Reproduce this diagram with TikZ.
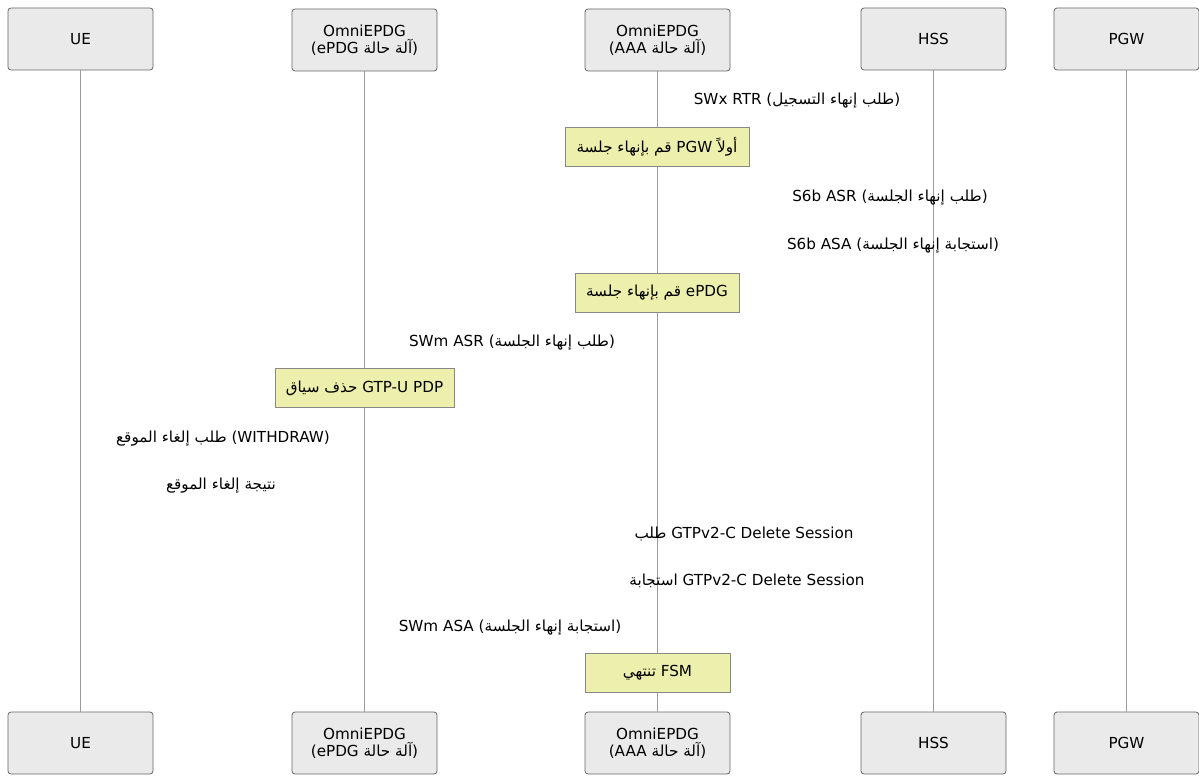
\documentclass[tikz,border=0pt]{standalone}
\usepackage{fontspec}
\setmainfont{DejaVu Sans}
\newfontfamily\arabicfont[Script=Arabic]{DejaVu Sans}
\TeXXeTstate=1
\newcommand\artxt[1]{{\arabicfont\beginR #1\endR}}
\definecolor{actorfill}{HTML}{EAEAEA}
\definecolor{actordraw}{HTML}{666666}
\definecolor{notefill}{HTML}{EDF0AD}
\definecolor{notedraw}{HTML}{888888}
\definecolor{lifecol}{HTML}{9A9A9A}
\begin{document}
\begin{tikzpicture}[x=1pt,y=-1pt,
  font=\fontsize{15.2}{17}\selectfont,
  actor/.style={draw=actordraw, fill=actorfill, rounded corners=3pt,
    minimum width=145pt, minimum height=62pt, align=center, inner sep=0pt, line width=0.8pt},
  notebox/.style={draw=notedraw, fill=notefill, minimum height=39pt, inner sep=0pt, line width=0.8pt},
  msg/.style={inner sep=0pt},
  life/.style={draw=lifecol, line width=1pt}]
\useasboundingbox (0,0) rectangle (1199,776);
% participants top
\node[actor] (ue)  at (80.5,39)  {UE};
\node[actor] (ep)  at (364.5,40) {OmniEPDG\\(ePDG \artxt{آلة حالة})};
\node[actor] (aaa) at (657.5,40) {OmniEPDG\\(AAA \artxt{آلة حالة})};
\node[actor] (hss) at (933.5,39) {HSS};
\node[actor] (pgw) at (1126.5,39) {PGW};
% participants bottom
\node[actor] (ueb)  at (80.5,743)  {UE};
\node[actor] (epb)  at (364.5,743) {OmniEPDG\\(ePDG \artxt{آلة حالة})};
\node[actor] (aaab) at (657.5,743) {OmniEPDG\\(AAA \artxt{آلة حالة})};
\node[actor] (hssb) at (933.5,743) {HSS};
\node[actor] (pgwb) at (1126.5,743) {PGW};
% lifelines
\draw[life] (ue) -- (ueb);
\draw[life] (ep) -- (epb);
\draw[life] (aaa) -- (aaab);
\draw[life] (hss) -- (hssb);
\draw[life] (pgw) -- (pgwb);
% messages and notes
\node[msg] (m1) at (797,100.5) {SWx RTR (\artxt{طلب إنهاء التسجيل})};
\node[notebox, minimum width=184pt] (n1) at (657,147) {\artxt{قم بإنهاء جلسة} PGW \artxt{أولاً}};
\node[msg] (m2) at (890,197.5) {S6b ASR (\artxt{طلب إنهاء الجلسة})};
\node[msg] (m3) at (893,245.5) {S6b ASA (\artxt{استجابة إنهاء الجلسة})};
\node[notebox, minimum width=164pt] (n2) at (657,292.5) {\artxt{قم بإنهاء جلسة} ePDG};
\node[msg] (m4) at (512,342.5) {SWm ASR (\artxt{طلب إنهاء الجلسة})};
\node[notebox, minimum width=179pt] (n3) at (364.5,388) {\artxt{حذف سياق} GTP-U PDP};
\node[msg] (m5) at (223,438.5) {\artxt{طلب إلغاء الموقع} (WITHDRAW)};
\node[msg] (m6) at (221,485.5) {\artxt{نتيجة إلغاء الموقع}};
\node[msg] (m7) at (744,534.5) {\artxt{طلب} GTPv2-C Delete Session};
\node[msg] (m8) at (747,580.5) {\artxt{استجابة} GTPv2-C Delete Session};
\node[msg] (m9) at (510,627.5) {SWm ASA (\artxt{استجابة إنهاء الجلسة})};
\node[notebox, minimum width=145pt] (n4) at (657.5,673) {\artxt{تنتهي} FSM};
\end{tikzpicture}
\end{document}
